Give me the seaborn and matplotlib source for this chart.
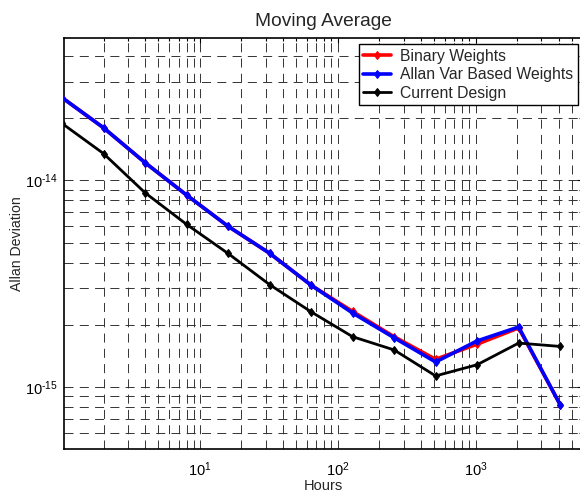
import numpy as np
import pandas as pd
import matplotlib
matplotlib.use("Agg")
import matplotlib.pyplot as plt
import matplotlib.ticker as mticker
import seaborn as sns

hours = [1, 2, 4, 8, 16, 32, 64, 128, 256, 512, 1024, 2048, 4096]
binary_weights = [2.52e-14, 1.80e-14, 1.22e-14, 8.5e-15, 6.0e-15, 4.44e-15, 3.11e-15,
                  2.32e-15, 1.75e-15, 1.36e-15, 1.61e-15, 1.93e-15, 8.2e-16]
allan_weights = [2.52e-14, 1.80e-14, 1.22e-14, 8.5e-15, 6.0e-15, 4.44e-15, 3.11e-15,
                 2.28e-15, 1.73e-15, 1.32e-15, 1.67e-15, 1.95e-15, 8.2e-16]
current_design = [1.89e-14, 1.35e-14, 8.72e-15, 6.13e-15, 4.43e-15, 3.13e-15, 2.31e-15,
                  1.75e-15, 1.51e-15, 1.13e-15, 1.28e-15, 1.63e-15, 1.57e-15]
series_names = ["Binary Weights", "Allan Var Based Weights", "Current Design"]
series_colors = ["#ff0000", "#0000ff", "#000000"]
x_major_ticks = [10, 100, 1000]
y_major_ticks = [1e-15, 1e-14]

df = pd.DataFrame({
    "Hours": hours * 3,
    "Allan Deviation": binary_weights + allan_weights + current_design,
    "Series": [series_names[0]] * len(hours) + [series_names[1]] * len(hours)
              + [series_names[2]] * len(hours),
})

sns.set_theme(style="white")
plt.rcParams["font.family"] = ["Liberation Sans", "DejaVu Sans"]
plt.rcParams["lines.scale_dashes"] = False
plt.rcParams["mathtext.fontset"] = "custom"
plt.rcParams["mathtext.rm"] = "Liberation Sans"

fig = plt.figure(figsize=(5.80, 4.92), dpi=100)
ax = fig.add_axes([64 / 580, 1 - 449 / 492, 518 / 580, (449 - 38) / 492])

widths = [2.6, 2.6, 2.0]
for name, col, lw in zip(series_names, series_colors, widths):
    sub = df[df["Series"] == name]
    sns.lineplot(data=sub, x="Hours", y="Allan Deviation", ax=ax, color=col,
                 linewidth=lw, marker="d", markersize=4.5, markeredgecolor=col,
                 label=name, zorder=3)

ax.set_xscale("log")
ax.set_yscale("log")
ax.set_xlim(1.034, 5900)
ax.set_ylim(5e-16, 4.9e-14)


def pow_label(v, pos):
    if v <= 0:
        return ""
    e = int(round(np.log10(v)))
    s = str(abs(e))
    if e < 0:
        s = "\u2010" + s
    return r"$\mathregular{10^{" + s + "}}$"


ax.xaxis.set_major_locator(mticker.FixedLocator(x_major_ticks))
ax.yaxis.set_major_locator(mticker.FixedLocator(y_major_ticks))
ax.xaxis.set_minor_locator(mticker.LogLocator(base=10, subs=np.arange(2, 10), numticks=20))
ax.yaxis.set_minor_locator(mticker.LogLocator(base=10, subs=np.arange(2, 10), numticks=20))
ax.xaxis.set_major_formatter(mticker.FuncFormatter(pow_label))
ax.yaxis.set_major_formatter(mticker.FuncFormatter(pow_label))
ax.xaxis.set_minor_formatter(mticker.NullFormatter())
ax.yaxis.set_minor_formatter(mticker.NullFormatter())

ax.grid(True, which="both", color="#333333", linewidth=0.7, linestyle=(0, (6.5, 4.5)))
ax.set_axisbelow(True)

ax.tick_params(which="both", direction="in", top=True, right=True, colors="black",
               labelsize=10.5)
ax.tick_params(axis="x", pad=8)
ax.tick_params(axis="y", pad=4.5)
ax.tick_params(which="major", length=3.5, width=0.8)
ax.tick_params(which="minor", length=2.2, width=0.8)
for s in ax.spines.values():
    s.set_color("black")
    s.set_linewidth(1.2)

ax.set_title("Moving Average", fontsize=13.8, pad=9)
ax.set_xlabel("Hours", fontsize=10.5, labelpad=0.5)
ax.set_ylabel("Allan Deviation", fontsize=10.2, labelpad=0.5)

leg = ax.legend(loc="upper right", fontsize=11.3, frameon=True, fancybox=False,
                edgecolor="black", framealpha=1, handlelength=1.75, handletextpad=0.6,
                labelspacing=0.22, borderpad=0.3, borderaxespad=0.0,
                bbox_to_anchor=(578 / 580, 1 - 44 / 492), bbox_transform=fig.transFigure)
leg.get_frame().set_linewidth(1.0)

fig.savefig("out.png", dpi=100)
